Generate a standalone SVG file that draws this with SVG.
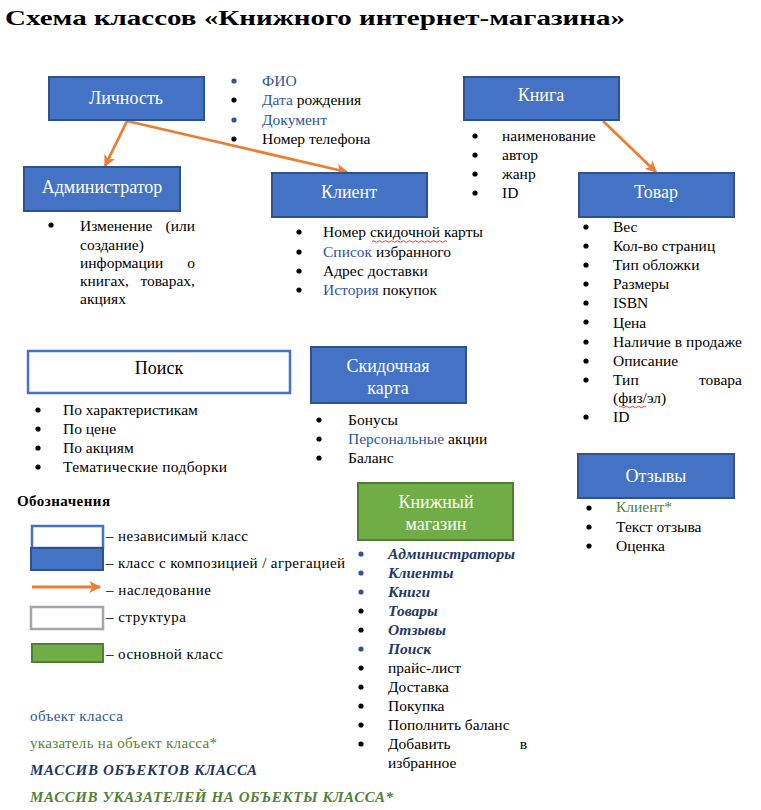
<svg xmlns="http://www.w3.org/2000/svg" width="761" height="810" viewBox="0 0 761 810">
<style>
.title{font-size:22px;font-weight:bold}
.cls{fill:#4472C4;stroke:#2F528F;stroke-width:2}
.ind{fill:#fff;stroke:#4472C4;stroke-width:2.5}
.main{fill:#70AD47;stroke:#507E32;stroke-width:2}
.str{fill:#fff;stroke:#A5A5A5;stroke-width:2.5}
.hd{font-size:18px;fill:#fff;text-anchor:middle}
.hdk{font-size:18px;fill:#000;text-anchor:middle}
.li{font-size:15.5px}
.lg{font-size:15px}
.b{fill:#2F5597}
.g{fill:#538135}
.arr{font-weight:bold;font-style:italic;fill:#1F3864}
.garr{font-weight:bold;font-style:italic;fill:#538135}
.dot{fill:#000}
.bdot{fill:#2F5597}
.inh{stroke:#ED7D31;stroke-width:2.8;fill:none;marker-end:url(#ah)}
.spell{stroke:#E02020;stroke-width:0.9;fill:none}
</style>
<defs>
<marker id="ah" viewBox="0 0 10 10" refX="9" refY="5" markerWidth="4.2" markerHeight="4.2" orient="auto" markerUnits="strokeWidth">
<path d="M0,0 L10,5 L0,10 L2.5,5 Z" fill="#ED7D31"/>
</marker>
</defs>
<text class="title" font-family="Liberation Serif" x="5" y="25" textLength="620" lengthAdjust="spacingAndGlyphs">Схема классов «Книжного интернет-магазина»</text>

<g id="connectors">
<path class="inh" d="M127,121 L105,166"/>
<path class="inh" d="M127,121 L347,172"/>
<path class="inh" d="M603,121 L656,172"/>
</g>

<g id="lichnost" font-family="Liberation Serif">
<rect class="cls" x="49" y="77" width="155" height="43"/>
<text class="hd" font-family="Liberation Serif" x="126" y="104">Личность</text>
<circle class="bdot" cx="234" cy="81" r="2.6"/>
<circle class="dot" cx="234" cy="100" r="2.6"/>
<circle class="bdot" cx="234" cy="120" r="2.6"/>
<circle class="dot" cx="234" cy="139" r="2.6"/>
<text class="li" font-family="Liberation Serif" x="262" y="86"><tspan class="b">ФИО</tspan></text>
<text class="li" font-family="Liberation Serif" x="262" y="105"><tspan class="b">Дата</tspan> рождения</text>
<text class="li" font-family="Liberation Serif" x="262" y="125"><tspan class="b">Документ</tspan></text>
<text class="li" font-family="Liberation Serif" x="262" y="144">Номер телефона</text>
</g>

<g id="admin" font-family="Liberation Serif">
<rect class="cls" x="24" y="167" width="156" height="44"/>
<text class="hd" font-family="Liberation Serif" x="102" y="193">Администратор</text>
<circle class="dot" cx="51" cy="225" r="2.6"/>
<text class="li" font-family="Liberation Serif" x="80" y="231">Изменение</text>
<text class="li" font-family="Liberation Serif" x="195" y="231" text-anchor="end">(или</text>
<text class="li" font-family="Liberation Serif" x="80" y="250">создание)</text>
<text class="li" font-family="Liberation Serif" x="80" y="268">информации</text>
<text class="li" font-family="Liberation Serif" x="195" y="268" text-anchor="end">о</text>
<text class="li" font-family="Liberation Serif" x="80" y="286">книгах,</text>
<text class="li" font-family="Liberation Serif" x="195" y="286" text-anchor="end">товарах,</text>
<text class="li" font-family="Liberation Serif" x="80" y="304">акциях</text>
</g>

<g id="klient" font-family="Liberation Serif">
<rect class="cls" x="272" y="173" width="155" height="44"/>
<text class="hd" font-family="Liberation Serif" x="349" y="198">Клиент</text>
<circle class="dot" cx="299" cy="232" r="2.6"/>
<circle class="dot" cx="299" cy="252" r="2.6"/>
<circle class="dot" cx="299" cy="271" r="2.6"/>
<circle class="dot" cx="299" cy="290" r="2.6"/>
<text class="li" font-family="Liberation Serif" x="323" y="237">Номер скидочной карты</text>
<path class="spell" d="M372,241.5 q1.5,-1.5 3,0 t3,0 t3,0 t3,0 t3,0 t3,0 t3,0 t3,0 t3,0 t3,0 t3,0 t3,0 t3,0 t3,0 t3,0 t3,0 t3,0 t3,0 t3,0 t3,0 t3,0 t3,0 t3,0 t3,0 t3,0"/>
<text class="li" font-family="Liberation Serif" x="323" y="257"><tspan class="b">Список</tspan> избранного</text>
<text class="li" font-family="Liberation Serif" x="323" y="276">Адрес доставки</text>
<text class="li" font-family="Liberation Serif" x="323" y="295"><tspan class="b">История</tspan> покупок</text>
</g>

<g id="kniga" font-family="Liberation Serif">
<rect class="cls" x="464" y="77" width="155" height="43"/>
<text class="hd" font-family="Liberation Serif" x="541" y="101">Книга</text>
<circle class="dot" cx="475" cy="136" r="2.6"/>
<circle class="dot" cx="475" cy="155" r="2.6"/>
<circle class="dot" cx="475" cy="174" r="2.6"/>
<circle class="dot" cx="475" cy="193" r="2.6"/>
<text class="li" font-family="Liberation Serif" x="502" y="141">наименование</text>
<text class="li" font-family="Liberation Serif" x="502" y="160">автор</text>
<text class="li" font-family="Liberation Serif" x="502" y="179">жанр</text>
<text class="li" font-family="Liberation Serif" x="502" y="198">ID</text>
</g>

<g id="tovar" font-family="Liberation Serif">
<rect class="cls" x="579" y="173" width="155" height="44"/>
<text class="hd" font-family="Liberation Serif" x="656" y="198">Товар</text>
<circle class="dot" cx="586" cy="227" r="2.6"/>
<circle class="dot" cx="586" cy="246" r="2.6"/>
<circle class="dot" cx="586" cy="265" r="2.6"/>
<circle class="dot" cx="586" cy="284" r="2.6"/>
<circle class="dot" cx="586" cy="303" r="2.6"/>
<circle class="dot" cx="586" cy="322" r="2.6"/>
<circle class="dot" cx="586" cy="342" r="2.6"/>
<circle class="dot" cx="586" cy="361" r="2.6"/>
<circle class="dot" cx="586" cy="380" r="2.6"/>
<circle class="dot" cx="586" cy="417" r="2.6"/>
<text class="li" font-family="Liberation Serif" x="613" y="232">Вес</text>
<text class="li" font-family="Liberation Serif" x="613" y="251">Кол-во страниц</text>
<text class="li" font-family="Liberation Serif" x="613" y="270">Тип обложки</text>
<text class="li" font-family="Liberation Serif" x="613" y="289">Размеры</text>
<text class="li" font-family="Liberation Serif" x="613" y="308">ISBN</text>
<text class="li" font-family="Liberation Serif" x="613" y="328">Цена</text>
<text class="li" font-family="Liberation Serif" x="613" y="347" textLength="129">Наличие в продаже</text>
<text class="li" font-family="Liberation Serif" x="613" y="366">Описание</text>
<text class="li" font-family="Liberation Serif" x="613" y="385">Тип</text>
<text class="li" font-family="Liberation Serif" x="742" y="385" text-anchor="end">товара</text>
<text class="li" font-family="Liberation Serif" x="613" y="403">(физ/эл)</text>
<path class="spell" d="M619,407 q1.5,-1.5 3,0 t3,0 t3,0 t3,0 t3,0 t3,0 t3,0 t3,0 t3,0"/>
<text class="li" font-family="Liberation Serif" x="613" y="422">ID</text>
</g>

<g id="otzyvy" font-family="Liberation Serif">
<rect class="cls" x="578" y="454" width="156" height="44"/>
<text class="hd" font-family="Liberation Serif" x="656" y="482">Отзывы</text>
<circle class="dot" cx="589" cy="508" r="2.6"/>
<circle class="dot" cx="589" cy="527" r="2.6"/>
<circle class="dot" cx="589" cy="546" r="2.6"/>
<text class="li g" font-family="Liberation Serif" x="616" y="512">Клиент*</text>
<text class="li" font-family="Liberation Serif" x="616" y="532">Текст отзыва</text>
<text class="li" font-family="Liberation Serif" x="616" y="551">Оценка</text>
</g>

<g id="poisk" font-family="Liberation Serif">
<rect class="ind" x="28" y="351" width="262" height="42"/>
<text class="hdk" font-family="Liberation Serif" x="159" y="374">Поиск</text>
<circle class="dot" cx="38" cy="410" r="2.6"/>
<circle class="dot" cx="38" cy="429" r="2.6"/>
<circle class="dot" cx="38" cy="448" r="2.6"/>
<circle class="dot" cx="38" cy="467" r="2.6"/>
<text class="li" font-family="Liberation Serif" x="63" y="415">По характеристикам</text>
<text class="li" font-family="Liberation Serif" x="63" y="434">По цене</text>
<text class="li" font-family="Liberation Serif" x="63" y="453">По акциям</text>
<text class="li" font-family="Liberation Serif" x="63" y="472" textLength="164">Тематические подборки</text>
</g>

<g id="karta" font-family="Liberation Serif">
<rect class="cls" x="311" y="347" width="155" height="56"/>
<text class="hd" font-family="Liberation Serif" x="388" y="372">Скидочная</text>
<text class="hd" font-family="Liberation Serif" x="388" y="394">карта</text>
<circle class="dot" cx="319" cy="420" r="2.6"/>
<circle class="dot" cx="319" cy="439" r="2.6"/>
<circle class="dot" cx="319" cy="458" r="2.6"/>
<text class="li" font-family="Liberation Serif" x="348" y="425">Бонусы</text>
<text class="li" font-family="Liberation Serif" x="348" y="444"><tspan class="b">Персональные</tspan> акции</text>
<text class="li" font-family="Liberation Serif" x="348" y="463">Баланс</text>
</g>

<g id="magazin" font-family="Liberation Serif">
<rect class="main" x="358" y="483" width="155" height="57"/>
<text class="hd" font-family="Liberation Serif" x="436" y="508">Книжный</text>
<text class="hd" font-family="Liberation Serif" x="436" y="530">магазин</text>
<circle class="bdot" cx="361" cy="554" r="2.6"/>
<circle class="bdot" cx="361" cy="573" r="2.6"/>
<circle class="bdot" cx="361" cy="592" r="2.6"/>
<circle class="dot" cx="361" cy="611" r="2.6"/>
<circle class="dot" cx="361" cy="630" r="2.6"/>
<circle class="bdot" cx="361" cy="649" r="2.6"/>
<circle class="dot" cx="361" cy="668" r="2.6"/>
<circle class="dot" cx="361" cy="687" r="2.6"/>
<circle class="dot" cx="361" cy="706" r="2.6"/>
<circle class="dot" cx="361" cy="725" r="2.6"/>
<circle class="dot" cx="361" cy="744" r="2.6"/>
<text class="li arr" font-family="Liberation Serif" x="388" y="559">Администраторы</text>
<text class="li arr" font-family="Liberation Serif" x="388" y="578">Клиенты</text>
<text class="li arr" font-family="Liberation Serif" x="388" y="597">Книги</text>
<text class="li arr" font-family="Liberation Serif" x="388" y="616">Товары</text>
<text class="li arr" font-family="Liberation Serif" x="388" y="635">Отзывы</text>
<text class="li arr" font-family="Liberation Serif" x="388" y="654">Поиск</text>
<text class="li" font-family="Liberation Serif" x="388" y="673">прайс-лист</text>
<text class="li" font-family="Liberation Serif" x="388" y="692">Доставка</text>
<text class="li" font-family="Liberation Serif" x="388" y="711">Покупка</text>
<text class="li" font-family="Liberation Serif" x="388" y="730">Пополнить баланс</text>
<text class="li" font-family="Liberation Serif" x="388" y="749">Добавить</text>
<text class="li" font-family="Liberation Serif" x="527" y="749" text-anchor="end">в</text>
<text class="li" font-family="Liberation Serif" x="388" y="768">избранное</text>
</g>

<g id="legend" font-family="Liberation Serif">
<text class="lg" font-family="Liberation Serif" x="17" y="506" font-weight="bold" textLength="93">Обозначения</text>
<rect class="ind" x="32" y="526" width="71" height="22"/>
<text class="lg" font-family="Liberation Serif" x="106" y="541" textLength="142">– независимый класс</text>
<rect class="cls" x="31" y="548" width="72" height="22"/>
<text class="lg" font-family="Liberation Serif" x="106" y="568" textLength="239">– класс с композицией / агрегацией</text>
<path class="inh" d="M32,587 L100,587"/>
<text class="lg" font-family="Liberation Serif" x="106" y="595" textLength="105">– наследование</text>
<rect class="str" x="31" y="607" width="72" height="22"/>
<text class="lg" font-family="Liberation Serif" x="106" y="622" textLength="80">– структура</text>
<rect class="main" x="32" y="644" width="71" height="18"/>
<text class="lg" font-family="Liberation Serif" x="106" y="659" textLength="117">– основной класс</text>
</g>

<g id="notation" font-family="Liberation Serif">
<text class="lg b" font-family="Liberation Serif" x="30" y="721" textLength="93">объект класса</text>
<text class="lg g" font-family="Liberation Serif" x="30" y="748" textLength="187">указатель на объект класса*</text>
<text class="lg arr" font-family="Liberation Serif" x="30" y="775" textLength="227">МАССИВ ОБЪЕКТОВ КЛАССА</text>
<text class="lg garr" font-family="Liberation Serif" x="30" y="802" textLength="363">МАССИВ УКАЗАТЕЛЕЙ НА ОБЪЕКТЫ КЛАССА*</text>
</g>
</svg>
